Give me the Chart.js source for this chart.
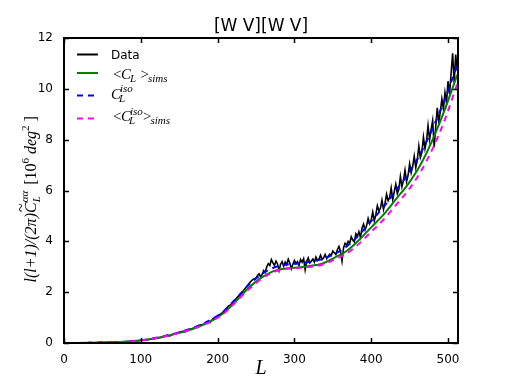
<!DOCTYPE html>
<html>
<head>
<meta charset="utf-8">
<script src="https://cdn.jsdelivr.net/npm/chart.js@4/dist/chart.umd.min.js"></script>
<style>
  html, body { margin: 0; padding: 0; background: #fff; }
  canvas { display: block; }
</style>
</head>
<body>
<canvas id="c" width="509" height="382"></canvas>
<script>
// measured spectrum: every 4th multipole at low L, every 2nd above L=250
const dataL = [
  2, 6, 10, 14, 18, 22, 26, 30, 34, 38, 42, 46, 50, 54, 58, 62,
  66, 70, 74, 78, 82, 86, 90, 94, 98, 102, 106, 110, 114, 118, 122, 126,
  130, 134, 138, 142, 146, 150, 154, 158, 162, 166, 170, 174, 178, 182, 186, 190,
  194, 198, 202, 206, 210, 214, 218, 222, 226, 230, 234, 238, 242, 246,
  250, 252, 254, 256, 258, 260, 262, 264, 266, 268, 270, 272,
  274, 276, 278, 280, 282, 284, 286, 288, 290, 292, 294, 296,
  298, 300, 302, 304, 306, 308, 310, 312, 314, 316, 318, 320,
  322, 324, 326, 328, 330, 332, 334, 336, 338, 340, 342, 344,
  346, 348, 350, 352, 354, 356, 358, 360, 362, 364, 366, 368,
  370, 372, 374, 376, 378, 380, 382, 384, 386, 388, 390, 392,
  394, 396, 398, 400, 402, 404, 406, 408, 410, 412, 414, 416,
  418, 420, 422, 424, 426, 428, 430, 432, 434, 436, 438, 440,
  442, 444, 446, 448, 450, 452, 454, 456, 458, 460, 462, 464,
  466, 468, 470, 472, 474, 476, 478, 480, 482, 484, 486, 488,
  490, 492, 494, 496, 498, 500, 502, 504, 506, 508, 510, 512
];
const dataV = [
  0, 0, 0, 0, 0, 0.002, 0.004, 0.003, 0.006, 0.008, 0.01, 0.014, 0.016, 0.02, 0.024, 0.03,
  0.034, 0.04, 0.046, 0.05, 0.06, 0.065, 0.075, 0.085, 0.1, 0.11, 0.12, 0.14, 0.16, 0.17, 0.2, 0.22,
  0.26, 0.31, 0.28, 0.35, 0.37, 0.42, 0.46, 0.44, 0.53, 0.56, 0.6, 0.66, 0.72, 0.74, 0.82, 0.8,
  0.96, 1.02, 1.1, 1.18, 1.32, 1.45, 1.52, 1.66, 1.82, 1.9, 2.08, 2.22, 2.38, 2.5,
  2.55, 2.66, 2.72, 2.60, 2.70, 2.85, 2.78, 3.00, 3.12, 3.05, 3.28, 3.15,
  3.05, 3.22, 3.12, 2.85, 3.10, 3.20, 3.02, 3.18, 3.08, 3.30, 3.15, 2.92,
  3.10, 3.25, 3.12, 3.20, 3.05, 3.28, 3.18, 3.32, 2.88, 3.22, 3.35, 3.15,
  3.22, 3.30, 3.18, 3.38, 3.25, 3.30, 3.45, 3.28, 3.35, 3.48, 3.32, 3.42,
  3.50, 3.45, 3.62, 3.55, 3.48, 3.68, 3.80, 3.60, 3.22, 3.75, 3.92, 3.85,
  4.00, 3.92, 4.18, 4.05, 3.98, 4.30, 4.20, 4.38, 4.15, 4.52, 4.68, 4.45,
  4.62, 4.90, 4.70, 4.85, 5.15, 4.80, 5.05, 5.40, 5.20, 5.30, 5.62, 5.25,
  5.50, 5.85, 5.60, 5.72, 6.10, 5.65, 5.95, 6.25, 5.88, 6.05, 6.55, 6.15,
  6.40, 6.80, 6.35, 6.60, 7.05, 6.70, 6.95, 7.35, 6.90, 7.20, 7.75, 7.30,
  7.50, 8.10, 7.65, 7.95, 8.55, 8.00, 8.40, 8.75, 7.70, 8.50, 9.25, 8.70,
  9.10, 9.60, 9.20, 9.85, 9.45, 10.30, 9.80, 10.60, 11.40, 10.25, 11.35, 10.70
];

// model curves
const modelL = [0, 16, 32, 48, 64, 80, 96, 112, 128, 144, 160, 176, 192, 208, 224, 240,
  256, 272, 288, 304, 320, 336, 352, 368, 384, 400, 416, 432, 448, 464, 480, 496, 512];
const simsMean = [0, 0, 0.005, 0.015, 0.03, 0.05, 0.09, 0.15, 0.24, 0.35, 0.48, 0.65, 0.87, 1.18, 1.65, 2.15,
  2.55, 2.82, 2.93, 2.97, 3.03, 3.12, 3.35, 3.62, 4.05, 4.55, 5.05, 5.65, 6.25, 7.0, 8.0, 9.2, 10.55];
const isoTheory = [0, 0, 0.005, 0.015, 0.03, 0.055, 0.095, 0.16, 0.25, 0.37, 0.51, 0.69, 0.93, 1.25, 1.75, 2.27,
  2.68, 2.95, 3.08, 3.13, 3.2, 3.3, 3.5, 3.8, 4.25, 4.8, 5.35, 6.0, 6.65, 7.45, 8.45, 9.6, 10.95];
const isoSimsMean = [0, 0, 0.005, 0.015, 0.03, 0.05, 0.09, 0.15, 0.24, 0.35, 0.48, 0.65, 0.86, 1.16, 1.62, 2.1,
  2.5, 2.78, 2.91, 2.95, 3.0, 3.08, 3.28, 3.52, 3.9, 4.38, 4.85, 5.42, 6.0, 6.72, 7.65, 8.8, 10.2];

const xTicks = [0, 100, 200, 300, 400, 500];
const yTicks = [0, 2, 4, 6, 8, 10, 12];

const pts = (xs, ys) => xs.map((x, i) => ({ x, y: ys[i] }));
const SERIF = "'Liberation Serif', 'DejaVu Serif', serif";

// matplotlib-like frame with inward ticks
const framePlugin = {
  id: 'frame',
  afterDatasetsDraw(chart) {
    const { ctx, chartArea: a, scales } = chart;
    ctx.save();
    ctx.strokeStyle = '#000';
    ctx.lineWidth = 1.5;
    ctx.beginPath();
    xTicks.forEach(v => {
      const px = Math.round(scales.x.getPixelForValue(v)) + 0.5;
      ctx.moveTo(px, a.bottom); ctx.lineTo(px, a.bottom - 5);
      ctx.moveTo(px, a.top); ctx.lineTo(px, a.top + 5);
    });
    yTicks.forEach(v => {
      const py = Math.round(scales.y.getPixelForValue(v)) + 0.5;
      ctx.moveTo(a.left, py); ctx.lineTo(a.left + 5, py);
      ctx.moveTo(a.right, py); ctx.lineTo(a.right - 5, py);
    });
    ctx.stroke();
    ctx.lineWidth = 2;
    ctx.strokeRect(a.left, a.top, a.right - a.left, a.bottom - a.top);
    ctx.restore();
  }
};

function put(ctx, text, x, y, font) {
  ctx.font = font;
  ctx.fillText(text, x, y);
  return ctx.measureText(text).width;
}

const textPlugin = {
  id: 'texts',
  afterDraw(chart) {
    const { ctx, chartArea: a } = chart;
    ctx.save();
    ctx.fillStyle = '#000';
    ctx.textBaseline = 'alphabetic';

    // title
    ctx.textAlign = 'center';
    put(ctx, '[W V][W V]', (a.left + a.right) / 2, 31, "17px 'DejaVu Sans'");
    // x label
    put(ctx, 'L', (a.left + a.right) / 2, 374, 'italic 20px ' + SERIF);

    // y label, rotated
    ctx.textAlign = 'left';
    ctx.save();
    ctx.translate(36, (a.top + a.bottom) / 2);
    ctx.rotate(-Math.PI / 2);
    const big = 'italic 16px ' + SERIF, rom = '16px ' + SERIF, sm = 'italic 11px ' + SERIF, smr = '11px ' + SERIF;
    let x = -92;
    x += put(ctx, 'l(l+1)/(2π)', x, 0, big);
    const cx = x;
    x += put(ctx, 'C', x, 0, big);
    put(ctx, '~', cx + 1, -10, '16px ' + SERIF);
    const w1 = put(ctx, 'L', x, 4, sm);
    const w2 = put(ctx, 'αα', x, -8, sm);
    x += Math.max(w1, w2) + 2;
    x += put(ctx, ' [10', x, 0, rom);
    x += put(ctx, '6', x, -7, smr);
    x += put(ctx, ' deg', x, 0, big);
    x += put(ctx, '2', x, -7, smr);
    put(ctx, ' ]', x, 0, rom);
    ctx.restore();

    // legend samples
    const rows = [
      { y: 54.5, color: '#000', dash: [] },
      { y: 73, color: '#008000', dash: [] },
      { y: 95.5, color: '#0000ff', dash: [6, 5] },
      { y: 118.5, color: '#ff00ff', dash: [6, 5] }
    ];
    rows.forEach(r => {
      ctx.save();
      ctx.strokeStyle = r.color;
      ctx.lineWidth = 2;
      ctx.setLineDash(r.dash);
      ctx.beginPath();
      ctx.moveTo(77, r.y); ctx.lineTo(98, r.y);
      ctx.stroke();
      ctx.restore();
    });

    // legend labels
    const m = 'italic 15px ' + SERIF, mr = '15px ' + SERIF, s = 'italic 11px ' + SERIF;
    put(ctx, 'Data', 111, 59, "12px 'DejaVu Sans'");

    put(ctx, '<', 113, 79, mr);
    put(ctx, 'C', 121, 79, m);
    put(ctx, 'L', 130, 82, s);
    put(ctx, '>', 140.5, 79, mr);
    put(ctx, 'sims', 148, 82, s);

    put(ctx, 'C', 111, 98.5, m);
    put(ctx, 'iso', 120, 92, s);
    put(ctx, 'L', 119, 101.5, s);

    put(ctx, '<', 113, 121, mr);
    put(ctx, 'C', 121, 121, m);
    put(ctx, 'iso', 130, 114.5, s);
    put(ctx, 'L', 129, 124, s);
    put(ctx, '>', 143, 121, mr);
    put(ctx, 'sims', 150.5, 124, s);
    ctx.restore();
  }
};

new Chart(document.getElementById('c'), {
  type: 'line',
  data: {
    datasets: [
      { label: 'Data', data: pts(dataL, dataV), borderColor: '#000', borderWidth: 1.6, pointRadius: 0, tension: 0, order: 4 },
      { label: '<C_L>_sims', data: pts(modelL, simsMean), borderColor: '#008000', borderWidth: 2, pointRadius: 0, cubicInterpolationMode: 'monotone', order: 3 },
      { label: 'C_L^iso', data: pts(modelL, isoTheory), borderColor: '#0000ff', borderWidth: 2, borderDash: [6, 5], pointRadius: 0, cubicInterpolationMode: 'monotone', order: 2 },
      { label: '<C_L^iso>_sims', data: pts(modelL, isoSimsMean), borderColor: '#ff00ff', borderWidth: 2, borderDash: [6, 5], pointRadius: 0, cubicInterpolationMode: 'monotone', order: 1 }
    ]
  },
  options: {
    responsive: false,
    animation: false,
    devicePixelRatio: 1,
    layout: { padding: { top: 38, right: 51, left: 0, bottom: 0 } },
    plugins: { legend: { display: false }, title: { display: false }, tooltip: { enabled: false } },
    scales: {
      x: {
        type: 'linear', min: 0, max: 513,
        grid: { display: false }, border: { display: false },
        ticks: { stepSize: 100, color: '#000', padding: 2, maxRotation: 0, font: { family: 'DejaVu Sans', size: 12 } },
        afterBuildTicks: s => { s.ticks = xTicks.map(v => ({ value: v })); },
        afterFit: s => { s.height = 39; }
      },
      y: {
        min: 0, max: 12,
        grid: { display: false }, border: { display: false },
        ticks: { stepSize: 2, color: '#000', padding: 3, font: { family: 'DejaVu Sans', size: 12 } },
        afterBuildTicks: s => { s.ticks = yTicks.map(v => ({ value: v })); },
        afterFit: s => { s.width = 64; }
      }
    }
  },
  plugins: [framePlugin, textPlugin]
});
</script>
</body>
</html>
